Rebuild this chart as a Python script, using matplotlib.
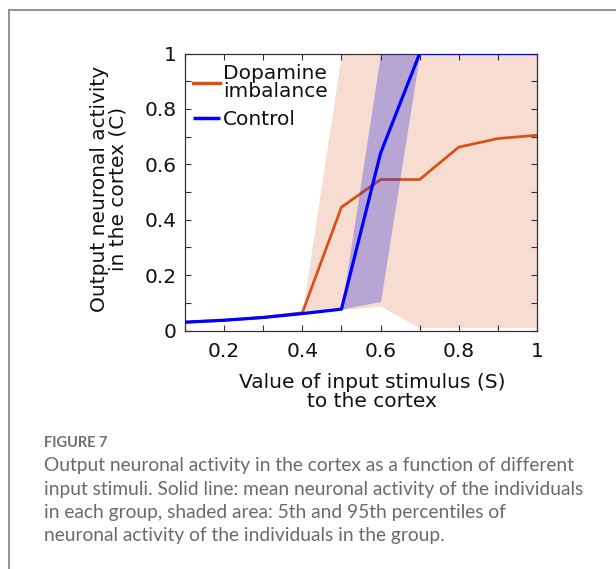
import matplotlib
matplotlib.use("Agg")
import matplotlib.pyplot as plt
from matplotlib.lines import Line2D
from matplotlib.ticker import MultipleLocator

# ---------------- data ----------------
stimulus = [0.1, 0.2, 0.3, 0.4, 0.5, 0.6, 0.7, 0.8, 0.9, 1.0]
dopamine_mean = [0.030, 0.037, 0.047, 0.064, 0.445, 0.545, 0.545, 0.662, 0.693, 0.705]
dopamine_p5 = [0.030, 0.037, 0.047, 0.064, 0.075, 0.088, 0.010, 0.010, 0.010, 0.010]
dopamine_p95 = [0.030, 0.037, 0.047, 0.066, 1.0, 1.0, 1.0, 1.0, 1.0, 1.0]
control_mean = [0.030, 0.037, 0.047, 0.061, 0.077, 0.640, 1.0, 1.0, 1.0, 1.0]
control_p5 = [0.030, 0.037, 0.047, 0.061, 0.077, 0.105, 1.0, 1.0, 1.0, 1.0]
control_p95 = [0.030, 0.037, 0.047, 0.061, 0.077, 1.0, 1.0, 1.0, 1.0, 1.0]

series_labels = ["Dopamine\nimbalance", "Control"]
xticks = [0.2, 0.4, 0.6, 0.8, 1.0]
xtick_labels = ["0.2", "0.4", "0.6", "0.8", "1"]
yticks = [0, 0.2, 0.4, 0.6, 0.8, 1.0]
ytick_labels = ["0", "0.2", "0.4", "0.6", "0.8", "1"]
xlabel = "Value of input stimulus (S)\nto the cortex"
ylabel = "Output neuronal activity\nin the cortex (C)"
fig_label = "FIGURE 7"
caption_lines = [
    "Output neuronal activity in the cortex as a function of different",
    "input stimuli. Solid line: mean neuronal activity of the individuals",
    "in each group, shaded area: 5th and 95th percentiles of",
    "neuronal activity of the individuals in the group.",
]

ORANGE = "#D95319"
BLUE = "#0000FF"
PURPLE_FILL = "#2526DE"

W, H = 616, 569
fig = plt.figure(figsize=(W / 100, H / 100), dpi=100)

def fx(px):
    return px / W

def fy(py):
    return 1 - py / H

ax_l, ax_r, ax_t, ax_b = 185, 537, 53.5, 330.5
ax = fig.add_axes([fx(ax_l), fy(ax_b), (ax_r - ax_l) / W, (ax_b - ax_t) / H])

fs = 14.5
ax.fill_between(stimulus, dopamine_p5, dopamine_p95, color=ORANGE, alpha=0.2, lw=0, zorder=1)
l1, = ax.plot(stimulus, dopamine_mean, color=ORANGE, lw=2.0, zorder=2, label=series_labels[0])
ax.fill_between(stimulus, control_p5, control_p95, color=PURPLE_FILL, alpha=0.3, lw=0, zorder=3)
l2, = ax.plot(stimulus, control_mean, color=BLUE, lw=2.3, zorder=4, label=series_labels[1],
              solid_capstyle="butt")

ax.set_xlim(0.1, 1.0)
ax.set_ylim(0, 1.0)
ax.set_xticks(xticks)
ax.set_xticklabels(xtick_labels)
ax.set_yticks(yticks)
ax.set_yticklabels(ytick_labels)
ax.xaxis.set_minor_locator(MultipleLocator(0.1))
ax.yaxis.set_minor_locator(MultipleLocator(0.1))
ax.tick_params(which="both", direction="in", top=True, right=True, length=4, width=0.8,
               color="#333333")
ax.tick_params(axis="x", which="major", pad=8, labelsize=fs, labelcolor="#111111")
ax.tick_params(axis="y", which="major", pad=6, labelsize=fs, labelcolor="#111111")
for s in ax.spines.values():
    s.set_color("#333333")
    s.set_linewidth(0.9)

xl = ax.set_xlabel(xlabel, fontsize=fs, linespacing=0.95, color="#111111")
ax.xaxis.set_label_coords((372 - ax_l) / (ax_r - ax_l), -(392 - ax_b) / (ax_b - ax_t))
xl.set_va("center")
yl = ax.set_ylabel(ylabel, fontsize=fs, linespacing=0.95, color="#111111")
ax.yaxis.set_label_coords(-(ax_l - 109) / (ax_r - ax_l), (ax_b - 189) / (ax_b - ax_t))
yl.set_va("center")
yl.set_ha("center")

leg = ax.legend(handles=[l1, l2], loc="upper left", frameon=False, fontsize=fs,
                bbox_to_anchor=((193 - ax_l) / (ax_r - ax_l), (ax_b - 64) / (ax_b - ax_t)),
                borderaxespad=0, borderpad=0, handlelength=1.35, handletextpad=0.15,
                labelspacing=0.45)
for t in leg.get_texts():
    t.set_linespacing(0.95)
    t.set_color("#111111")
for h in leg.legend_handles:
    h.set_linewidth(2.5)

# figure frame
fig.add_artist(Line2D([fx(9), 1], [fy(10), fy(10)], transform=fig.transFigure,
                      color="#8a8a8a", lw=1.3))
fig.add_artist(Line2D([fx(9), fx(9)], [fy(10), 0], transform=fig.transFigure,
                      color="#8a8a8a", lw=1.3))

fig.text(fx(44), fy(443), fig_label, family="Lato", fontsize=10.5, fontweight="bold",
         color="#707070", ha="left", va="center")
for i, line in enumerate(caption_lines):
    fig.text(fx(44), fy(466 + 23.3 * i), line, family="Lato", fontsize=13.8, color="#6a6a6a",
             ha="left", va="center")

fig.savefig("out.png", dpi=100)
